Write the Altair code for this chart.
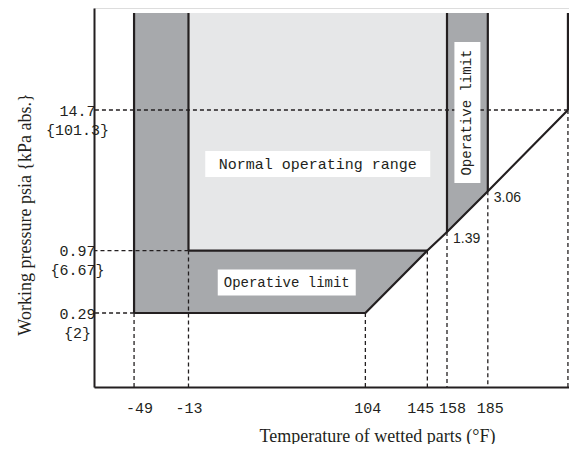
import altair as alt
import pandas as pd

# ---- data ----
x_ticks = [-49, -13, 104, 145, 158, 185]
x_tick_labels = ["-49", "-13", "104", "145", "158", "185"]
x_label_shift = [5, 0, 2, -7, 5, 2]
y_ticks = [0.29, 0.97, 14.7]
y_tick_psia = ["0.29", "0.97", "14.7"]
y_tick_kpa = ["{2}", "{6.67}", "{101.3}"]

p_top = 96          # upper end of the drawn bands
diag_t = [104, 145, 158, 185, 238]
diag_p = [0.29, 0.97, 1.39, 3.06, 14.7]

dark_t = [-49, 104, 145, 158, 185]
dark_p = [0.29, 0.29, 0.97, 1.39, 3.06]
light_t = [-13, 145, 158]
light_p = [0.97, 0.97, 1.39]

seg_t1 = [-49, -49, 238, -13, -13, 158, 185]
seg_p1 = [96, 0.29, 14.7, 96, 0.97, 96, 96]
seg_t2 = [-49, 104, 238, -13, 145, 158, 185]
seg_p2 = [0.29, 0.29, 96, 0.97, 0.97, 1.39, 3.06]

vdash_t = [-49, -13, 104, 145, 158, 185, 238]
vdash_p = [0.29, 0.97, 0.29, 0.97, 1.39, 3.06, 14.7]
hdash_p = [14.7, 0.97, 0.29]
hdash_t = [238, -13, -49]

pt_labels = ["1.39", "3.06"]
pt_t = [158, 185]
pt_p = [1.39, 3.06]

region_text = ["Normal operating range", "Operative limit", "Operative limit"]
region_t = [72.5, 52, 171.5]
region_p = [5.17, 0.522, 14.0]

# ---- style ----
INK = "#231f20"
DARK = "#a7a9ac"
LIGHT = "#e6e7e8"
MONO = "Liberation Mono"
SERIF = "Liberation Serif"

W, H = 475, 379
xscale = alt.Scale(domain=[-75.5, 238.7], nice=False, zero=False)
yscale = alt.Scale(type="log", domain=[0.06933, 105.7], nice=False, zero=False)

xlabel_expr = " : ".join(
    [f"abs(datum.value - ({v})) < 0.01 ? '{l}'" for v, l in zip(x_ticks, x_tick_labels)]
) + " : ''"
ylabel_expr = " : ".join(
    [f"abs(datum.value - {v}) < 0.001 ? ['{a}', '{b}']" for v, a, b in zip(y_ticks, y_tick_psia, y_tick_kpa)]
) + " : ''"
x_offset_cond = {
    "condition": [{"test": f"abs(datum.value - ({v})) < 0.01", "value": s}
                  for v, s in zip(x_ticks, x_label_shift) if s != 0],
    "value": 0,
}

x_axis = alt.Axis(
    values=x_ticks, labelExpr=xlabel_expr, ticks=False, tickSize=0, grid=False,
    domainColor=INK, domainWidth=2, labelFont=MONO, labelFontSize=15, labelColor=INK,
    labelAlign="center", labelBaseline="middle", labelPadding=20,
    labelOffset=x_offset_cond,
    title="Temperature of wetted parts (°F)", titleFont=SERIF, titleFontSize=18,
    titleFontWeight="normal", titleColor=INK, titleX=283, titleY=49,
    titleAlign="center", titleBaseline="middle", labelFlush=False, labelOverlap=False,
)
y_axis = alt.Axis(
    values=y_ticks, labelExpr=ylabel_expr, ticks=False, tickSize=0, grid=False,
    domainColor=INK, domainWidth=2, labelFont=MONO, labelFontSize=15, labelColor=INK,
    labelAlign="center", labelBaseline="middle", labelPadding=17, labelLineHeight=19,
    labelFlush=False, labelOverlap=False,
    title="Working pressure psia {kPa abs.}", titleFont=SERIF, titleFontSize=18,
    titleFontWeight="normal", titleColor=INK, titleX=-69, titleY=206,
    titleAngle=-90, titleAlign="center", titleBaseline="middle",
)

dark_df = pd.DataFrame({"t": dark_t, "p": dark_p, "top": [p_top] * len(dark_t)})
light_df = pd.DataFrame({"t": light_t, "p": light_p, "top": [p_top] * len(light_t)})
diag_df = pd.DataFrame({"t": diag_t, "p": diag_p})
seg_df = pd.DataFrame({"t1": seg_t1, "p1": seg_p1, "t2": seg_t2, "p2": seg_p2})
vd_df = pd.DataFrame({"t": vdash_t, "p": vdash_p})
hd_df = pd.DataFrame({"t": hdash_t, "p": hdash_p})
pt_df = pd.DataFrame({"label": pt_labels, "t": pt_t, "p": pt_p})
reg_df = pd.DataFrame({"label": region_text, "t": region_t, "p": region_p})

X = lambda f: alt.X(f, type="quantitative", scale=xscale, axis=x_axis)
Y = lambda f: alt.Y(f, type="quantitative", scale=yscale, axis=y_axis)

dark = alt.Chart(dark_df).mark_area(color=DARK, opacity=1).encode(
    x=X("t"), y=Y("p"), y2=alt.Y2("top"))
light = alt.Chart(light_df).mark_area(color=LIGHT, opacity=1).encode(
    x="t:Q", y="p:Q", y2=alt.Y2("top"))

vdash = alt.Chart(vd_df).mark_rule(color=INK, strokeWidth=1.3, strokeDash=[4, 3]).encode(
    x="t:Q", y="p:Q", y2=alt.value(H))
hdash = alt.Chart(hd_df).mark_rule(color=INK, strokeWidth=1.3, strokeDash=[4, 3]).encode(
    x="t:Q", x2=alt.value(0), y="p:Q")

segs = alt.Chart(seg_df).mark_rule(color=INK, strokeWidth=2.2).encode(
    x="t1:Q", y="p1:Q", x2=alt.X2("t2"), y2=alt.Y2("p2"))
diag = alt.Chart(diag_df).mark_line(color=INK, strokeWidth=2.2).encode(
    x="t:Q", y="p:Q", order="t:Q")

box1 = alt.Chart(reg_df.iloc[[0]]).mark_rect(color="white", width=225, height=26).encode(
    x="t:Q", y="p:Q")
box2 = alt.Chart(reg_df.iloc[[1]]).mark_rect(color="white", width=138, height=26).encode(
    x="t:Q", y="p:Q")
box3 = alt.Chart(reg_df.iloc[[2]]).mark_rect(color="white", width=26, height=141).encode(
    x="t:Q", y="p:Q")

txt1 = alt.Chart(reg_df.iloc[[0]]).mark_text(font=MONO, fontSize=15, color=INK).encode(
    x="t:Q", y="p:Q", text="label:N")
txt2 = alt.Chart(reg_df.iloc[[1]]).mark_text(font=MONO, fontSize=14, color=INK).encode(
    x="t:Q", y="p:Q", text="label:N")
txt3 = alt.Chart(reg_df.iloc[[2]]).mark_text(font=MONO, fontSize=14, color=INK, angle=270).encode(
    x="t:Q", y="p:Q", text="label:N")

ptxt = alt.Chart(pt_df).mark_text(font="Liberation Sans", fontSize=14, color=INK,
                                  align="left", baseline="middle", dx=6, dy=7).encode(
    x="t:Q", y="p:Q", text="label:N")

chart = alt.layer(dark, light, vdash, hdash, segs, diag, box1, box2, box3,
                  txt1, txt2, txt3, ptxt).properties(
    width=W, height=H,
    padding={"left": 86, "top": 0, "right": 0, "bottom": 57},
    autosize=alt.AutoSizeParams(type="none"),
).configure_view(stroke=None).configure(background="white")

chart.save("out.html", embed_options={"renderer": "svg", "actions": False})
